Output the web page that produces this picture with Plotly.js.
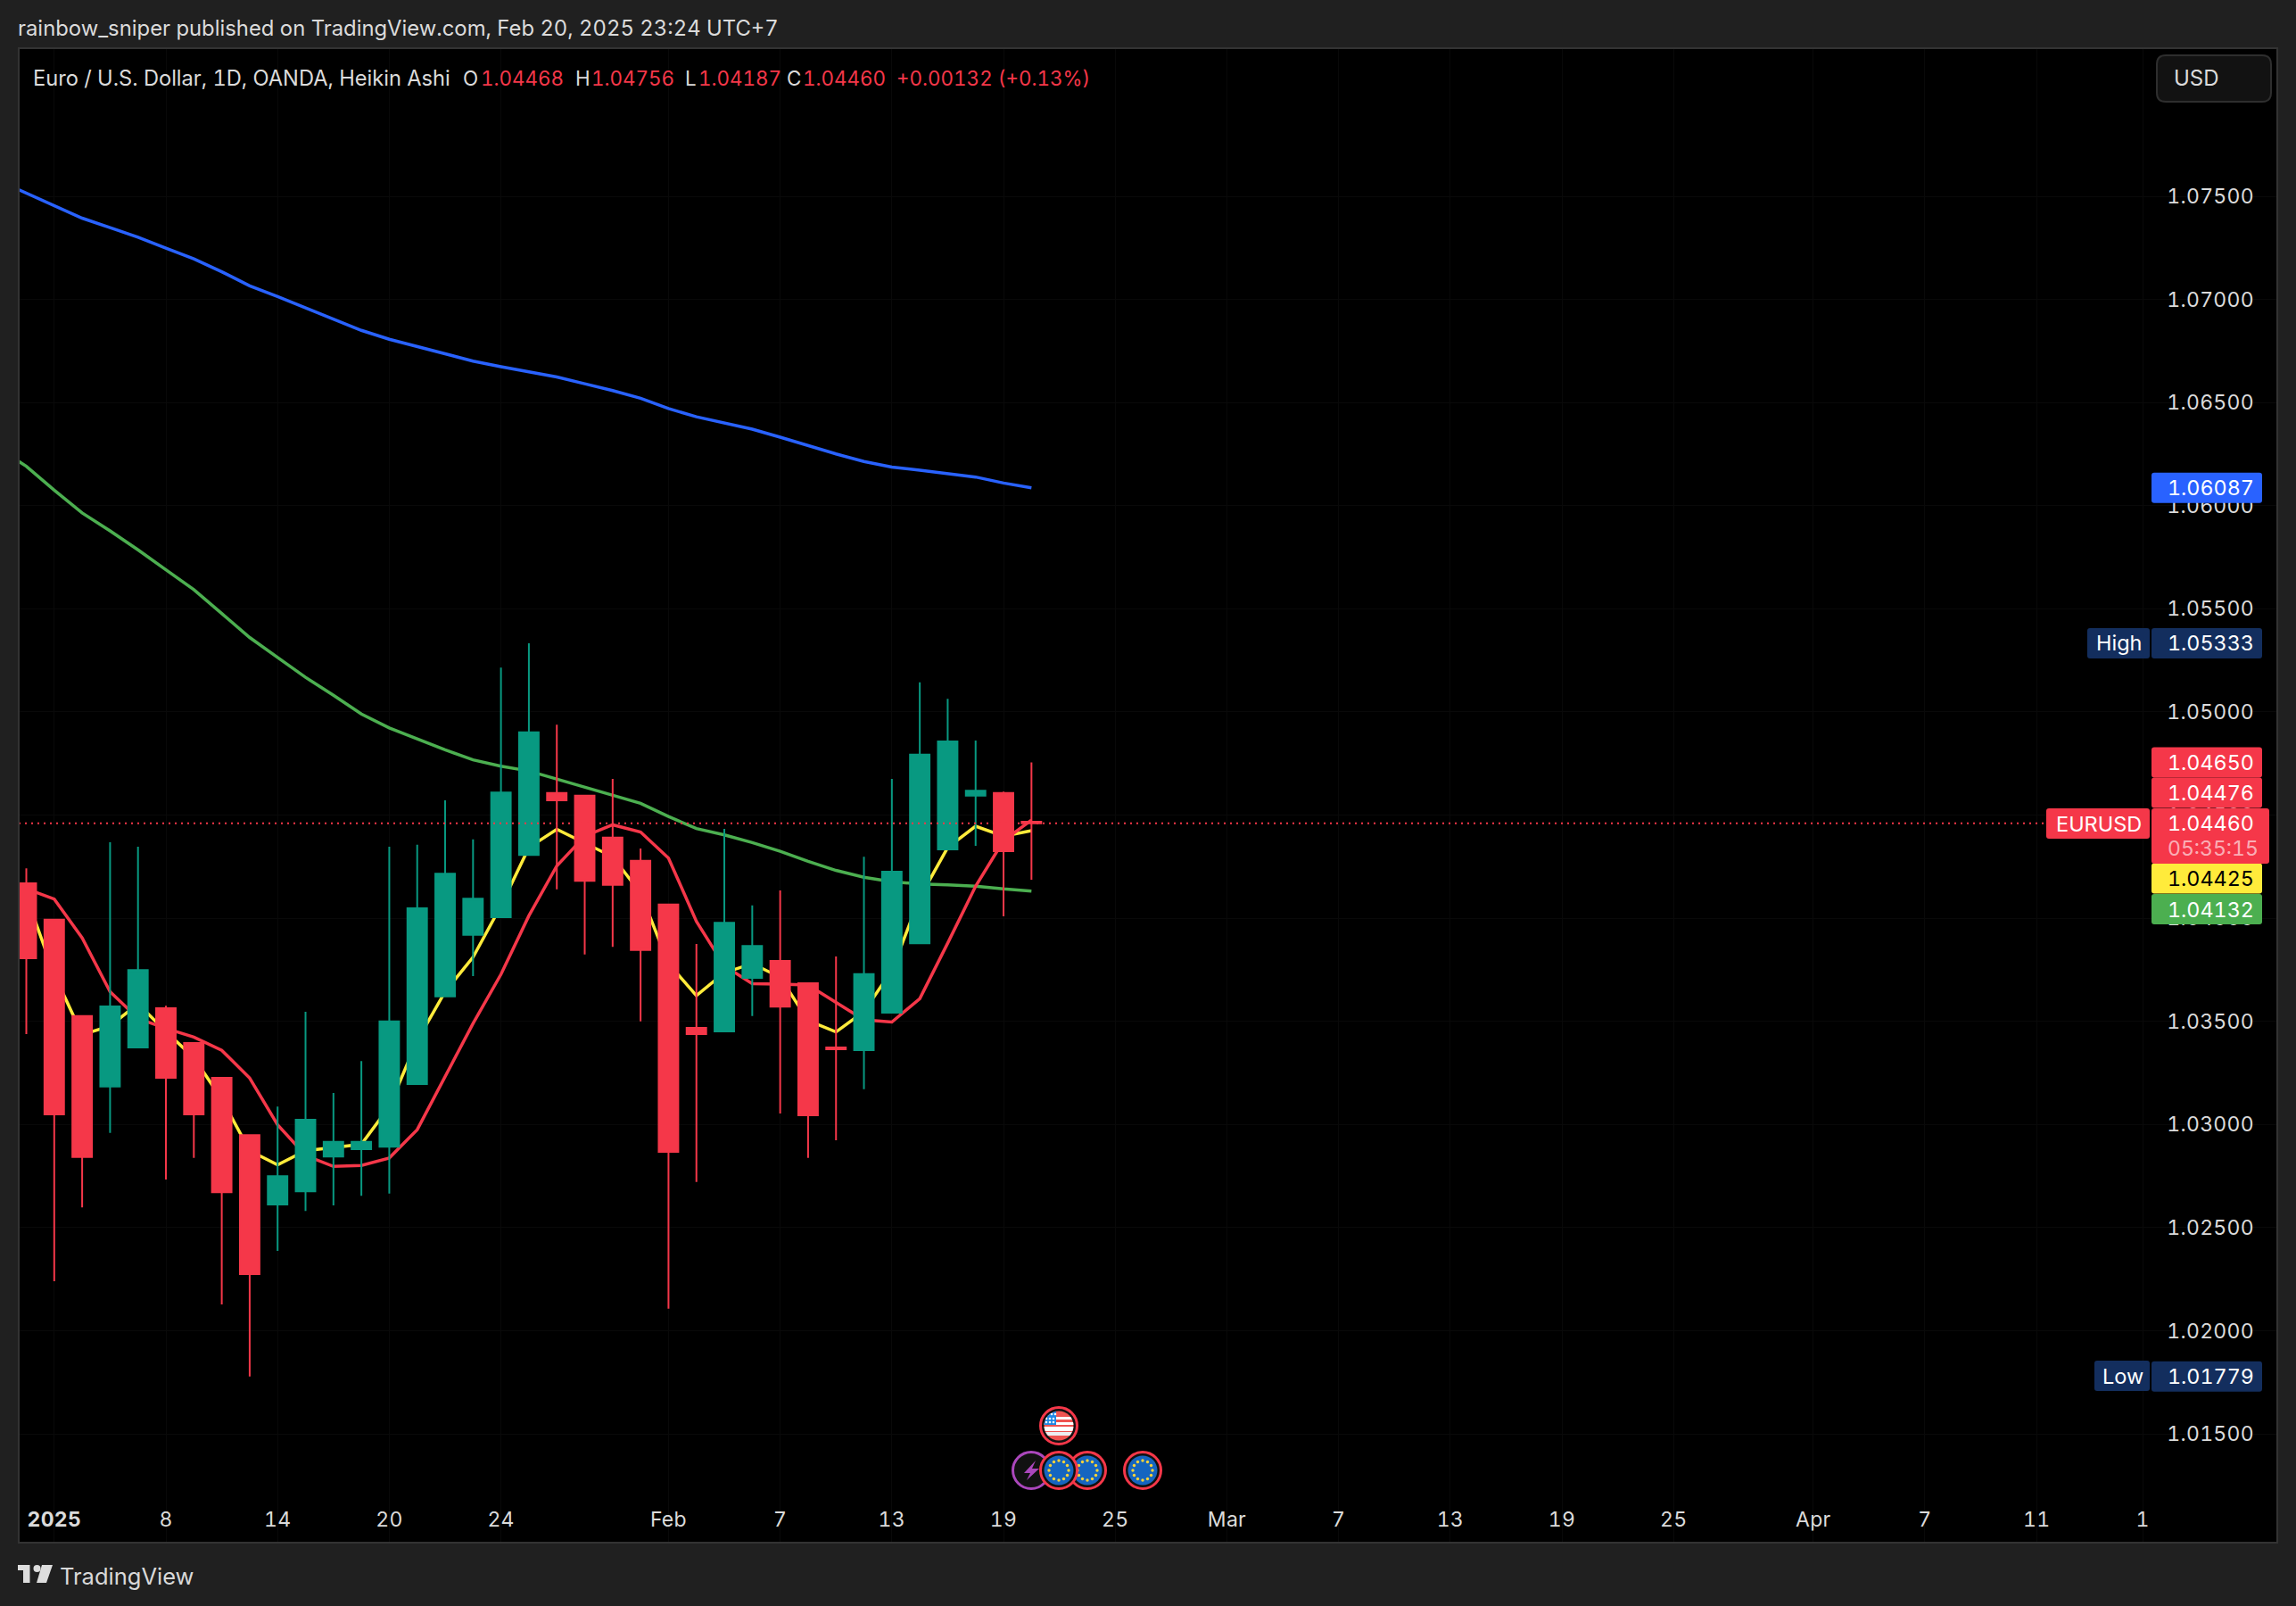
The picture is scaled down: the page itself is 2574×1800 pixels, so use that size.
<!DOCTYPE html>
<html>
<head>
<meta charset="utf-8">
<script src="https://cdn.plot.ly/plotly-3.0.1.min.js"></script>
<style>html,body{margin:0;padding:0;background:#202020}#chart{width:2574px;height:1800px}
svg text{font-variant-numeric:tabular-nums;font-feature-settings:"tnum"}
.ytick text,.xtick text{letter-spacing:.3px}
</style>
</head>
<body>
<div id="chart"></div>
<script>
// ---------- data ----------
const barIndex = [...Array(37).keys()];
const openValues  = [1.04169,1.03993,1.03526,1.03184,1.03374,1.03564,1.03395,1.03227,1.02949,1.02612,1.02676,1.02845,1.02881,1.02892,1.03196,1.03621,1.03920,1.04005,1.04307,1.04607,1.04594,1.04391,1.04279,1.04067,1.03469,1.03451,1.03711,1.03793,1.03685,1.03374,1.03361,1.03542,1.03879,1.04334,1.04594,1.04607,1.04468];
const highValues  = [1.04242,1.03993,1.03526,1.04368,1.04347,1.03576,1.03395,1.03227,1.02949,1.03087,1.03547,1.03153,1.03308,1.04347,1.04356,1.04572,1.04382,1.05215,1.05333,1.04938,1.04594,1.04676,1.04338,1.04067,1.03875,1.04433,1.04062,1.04135,1.03685,1.03815,1.04298,1.04676,1.05144,1.05064,1.04861,1.04614,1.04756];
const lowValues   = [1.03438,1.02240,1.02598,1.02959,1.03374,1.02733,1.02838,1.02128,1.01779,1.02387,1.02581,1.02608,1.02655,1.02665,1.03196,1.03621,1.03720,1.04005,1.04307,1.04140,1.03824,1.03861,1.03500,1.02107,1.02721,1.03451,1.03526,1.03054,1.02838,1.02924,1.03171,1.03542,1.03879,1.04334,1.04351,1.04009,1.04187];
const closeValues = [1.03806,1.03049,1.02843,1.03573,1.03749,1.03227,1.03049,1.02672,1.02275,1.02750,1.03023,1.02916,1.02916,1.03500,1.04048,1.04216,1.04095,1.04610,1.04901,1.04572,1.04181,1.04162,1.03846,1.02868,1.03438,1.03978,1.03866,1.03572,1.03045,1.03365,1.03729,1.04226,1.04793,1.04857,1.04618,1.04325,1.04460];

const yellowLine = [1.04107,1.03728,1.03436,1.03478,1.03585,1.03450,1.03324,1.03123,1.02873,1.02805,1.02873,1.02890,1.02904,1.03087,1.03407,1.03644,1.03811,1.04060,1.04343,1.04431,1.04365,1.04298,1.04122,1.03780,1.03625,1.03736,1.03780,1.03714,1.03504,1.03449,1.03548,1.03747,1.04100,1.04343,1.04446,1.04398,1.04425];
const redLine    = [1.04143,1.04093,1.03905,1.03644,1.03514,1.03466,1.03424,1.03360,1.03225,1.02999,1.02850,1.02797,1.02802,1.02838,1.02975,1.03229,1.03490,1.03728,1.04012,1.04254,1.04398,1.04453,1.04418,1.04292,1.03985,1.03769,1.03683,1.03681,1.03676,1.03592,1.03508,1.03497,1.03610,1.03879,1.04155,1.04376,1.04476];
const maIndex    = [-1,...barIndex];
const blueLine   = [1.07576,1.07514,1.07452,1.07394,1.07348,1.07302,1.07249,1.07197,1.07134,1.07066,1.07014,1.06960,1.06906,1.06850,1.06807,1.06773,1.06738,1.06701,1.06674,1.06649,1.06624,1.06591,1.06558,1.06521,1.06471,1.06431,1.06402,1.06371,1.06332,1.06290,1.06251,1.06214,1.06187,1.06172,1.06156,1.06139,1.06110,1.06087];
const greenLine  = [1.06278,1.06191,1.06075,1.05965,1.05878,1.05786,1.05689,1.05593,1.05477,1.05361,1.05264,1.05168,1.05081,1.04990,1.04923,1.04869,1.04817,1.04768,1.04737,1.04714,1.04674,1.04634,1.04596,1.04557,1.04493,1.04435,1.04404,1.04367,1.04325,1.04276,1.04232,1.04199,1.04177,1.04166,1.04162,1.04155,1.04142,1.04132];

const xTickVals = [1,5,9,13,17,23,27,31,35,39,43,47,51,55,59,64,68,72,75.8];
const xTickText = ['<b>2025</b>','8','14','20','24','Feb','7','13','19','25','Mar','7','13','19','25','Apr','7','11','1'];
const yTickVals = [1.015,1.02,1.025,1.03,1.035,1.04,1.045,1.05,1.055,1.06,1.065,1.07,1.075];

const lastPrice = 1.0446;
const highPrice = 1.05333, lowPrice = 1.01779;
const headerText = 'rainbow_sniper published on TradingView.com, Feb 20, 2025 23:24 UTC+7';
const legendTitle = 'Euro / U.S. Dollar, 1D, OANDA, Heikin Ashi';
const legendOhlc = ['O','1.04468','H','1.04756','L','1.04187','C','1.04460','+0.00132 (+0.13%)'];

// ---------- colours ----------
const RED='#F53749', TEAL='#089981', YEL='#FFEB3B', GRN='#4CAF50', BLU='#2962FF', NAVY='#132E5E', TXT='#DBDBDB', FONT='Inter, "Noto Sans", sans-serif';

// ---------- frame geometry ----------
const L=21,R=2553,T=54,B=1729, yMin=1.00973,yMax=1.08218, xMin=-0.2716,xMax=80.62;
const px=x=>(x-L)/(R-L), py=y=>(B-y)/(B-T);
const yOf=p=>T+(yMax-p)/(yMax-yMin)*(B-T);

function rrect(x0,y0,x1,y1,r,fill,line){
  const X=px,Y=py;
  const pts=`M${X(x0+r)},${Y(y0)} L${X(x1-r)},${Y(y0)} Q${X(x1)},${Y(y0)} ${X(x1)},${Y(y0+r)} L${X(x1)},${Y(y1-r)} Q${X(x1)},${Y(y1)} ${X(x1-r)},${Y(y1)} L${X(x0+r)},${Y(y1)} Q${X(x0)},${Y(y1)} ${X(x0)},${Y(y1-r)} L${X(x0)},${Y(y0+r)} Q${X(x0)},${Y(y0)} ${X(x0+r)},${Y(y0)} Z`;
  return {type:'path',xref:'paper',yref:'paper',layer:'above',path:pts,fillcolor:fill,line:{color:line||fill,width:line?2:0}};
}
function poly(points,fill){
  return {type:'path',xref:'paper',yref:'paper',layer:'above',fillcolor:fill,line:{width:0},
    path:'M'+points.map(p=>px(p[0])+','+py(p[1])).join(' L')+' Z'};
}
const shapes=[], annotations=[];
function note(text,x,y,opts){
  annotations.push(Object.assign({text,x:px(x),y:py(y),xref:'paper',yref:'paper',xanchor:'left',yanchor:'middle',showarrow:false,align:'left',
    font:{family:FONT,size:23,color:TXT},borderpad:0},opts||{}));
}
// price-axis labels: [text, price, fill, text colour]
const priceTags=[
  ['1.06087',1.06087,BLU,'#fff'],
  ['1.05333',highPrice,NAVY,'#fff'],
  ['1.04650',1.0465,RED,'#fff'],
  ['1.04476',1.04476,RED,'#fff'],
  ['1.04425',1.04425,YEL,'#000'],
  ['1.04132',1.04132,GRN,'#fff'],
  ['1.01779',lowPrice,NAVY,'#fff'],
];
const tagCentre={'1.04650':854.6,'1.04476':888.6,'1.04425':984.6,'1.04132':1019};
priceTags.forEach(t=>{
  const cy=tagCentre[t[0]]||yOf(t[1]);
  shapes.push(rrect(2412,cy-17,2536,cy+17,3,t[2]));
  annotations.push({text:t[0],xref:'paper',yref:'y',x:px(2428),y:t[1],yshift:yOf(t[1])-cy,xanchor:'left',yanchor:'middle',showarrow:false,font:{family:FONT,size:23.3,color:t[3]}});
});
// last price block
shapes.push(rrect(2412,906,2544,968,3,RED));
annotations.push({text:lastPrice.toFixed(5),xref:'paper',yref:'y',x:px(2428),y:lastPrice,xanchor:'left',yanchor:'middle',showarrow:false,font:{family:FONT,size:23.3,color:'#fff'}});
note('05:35:15',2429,951,{font:{family:FONT,size:23,color:'rgba(255,255,255,0.62)'}});
// left tags
shapes.push(rrect(2294,906,2410,940,3,RED));
note('EURUSD',2304,923,{font:{family:FONT,size:23.5,color:'#fff'}});
shapes.push(rrect(2340,704,2410,738,3,NAVY));
note('High',2349,721,{font:{family:FONT,size:23.5,color:'#fff'}});
shapes.push(rrect(2348,1525,2410,1559,3,NAVY));
note('Low',2356,1542,{font:{family:FONT,size:23.5,color:'#fff'}});
// last-price dotted line
shapes.push({type:'line',xref:'paper',yref:'y',x0:0,x1:px(2294),y0:lastPrice,y1:lastPrice,layer:'above',line:{color:RED,width:2,dash:'2px 5px'}});
// USD button
shapes.push(rrect(2418,62,2546,114,10,'#121212','#2E2E2E'));
note('USD',2436,87,{font:{family:FONT,size:24,color:TXT}});
// header, legend
note(headerText,19,32,{font:{family:FONT,size:23.85,color:TXT}});
note(legendTitle,36,87,{font:{family:FONT,size:23.65,color:TXT}});
[[legendOhlc[0],518,TXT],[legendOhlc[1],538,RED],[legendOhlc[2],644,TXT],[legendOhlc[3],662,RED],[legendOhlc[4],767,TXT],[legendOhlc[5],782,RED],[legendOhlc[6],881,TXT],[legendOhlc[7],899,RED],[legendOhlc[8],1004,RED]]
  .forEach(a=>note(a[0],a[1],87,{font:{family:FONT,size:22.4,color:a[2]}}));
// footer logo
shapes.push(poly([[20,1754],[33.5,1754],[33.5,1774],[26,1774],[26,1760],[20,1760]],'#DDD'));
shapes.push({type:'circle',xref:'paper',yref:'paper',layer:'above',x0:px(37.5),x1:px(45.5),y0:py(1754),y1:py(1762),fillcolor:'#DDD',line:{width:0}});
shapes.push(poly([[47,1754],[59,1754],[52,1774],[41,1774]],'#DDD'));
note('TradingView',66,1766,{font:{family:FONT,size:25.5,color:'#D9D9D9'}});

// event badges as inline SVG images
function starRing(){let s='';for(let i=0;i<12;i++){const a=i*Math.PI/6;s+=`<circle cx="${22+11*Math.sin(a)}" cy="${22-11*Math.cos(a)}" r="1.7" fill="#F5D33A"/>`;}return s;}
const euSvg=`<svg xmlns="http://www.w3.org/2000/svg" width="44" height="44"><circle cx="22" cy="22" r="20.5" fill="#111" stroke="${RED}" stroke-width="3"/><circle cx="22" cy="22" r="16.5" fill="#1565C0"/>${starRing()}</svg>`;
const usSvg=`<svg xmlns="http://www.w3.org/2000/svg" width="44" height="44"><defs><clipPath id="c"><circle cx="22" cy="22" r="16.5"/></clipPath></defs><circle cx="22" cy="22" r="20.5" fill="#111" stroke="${RED}" stroke-width="3"/><g clip-path="url(#c)"><rect width="44" height="44" fill="#EF5350"/><rect y="12" width="44" height="3" fill="#fff"/><rect y="18" width="44" height="3" fill="#fff"/><rect y="23" width="44" height="5" fill="#fff"/><rect y="29" width="44" height="4" fill="#ECEFF1"/><rect y="5" width="19" height="16" fill="#1E88E5"/><g fill="#fff"><circle cx="10" cy="9" r="1.3"/><circle cx="14" cy="9" r="1.3"/><circle cx="18" cy="9" r="1.3"/><circle cx="8" cy="14" r="1.3"/><circle cx="12" cy="14" r="1.3"/><circle cx="16" cy="14" r="1.3"/><circle cx="8" cy="18" r="1.3"/><circle cx="12" cy="18" r="1.3"/><circle cx="16" cy="18" r="1.3"/></g></g></svg>`;
const boltSvg=`<svg xmlns="http://www.w3.org/2000/svg" width="44" height="44"><circle cx="22" cy="22" r="20.5" fill="#111" stroke="#AB47BC" stroke-width="3"/><path d="M27 11 L14 25 L21 25 L17 33 L31 20 L23 20 Z" fill="#AB47BC"/></svg>`;
const uri=s=>'data:image/svg+xml;charset=utf-8,'+encodeURIComponent(s);
function badge(svg,cx,cy){return {source:uri(svg),xref:'paper',yref:'paper',layer:'above',x:px(cx-22),y:py(cy-22),sizex:44/(R-L),sizey:44/(B-T),sizing:'stretch',xanchor:'left',yanchor:'top'};}
const images=[badge(usSvg,1187,1598),badge(boltSvg,1156,1648),badge(euSvg,1219,1648),badge(euSvg,1187,1648),badge(euSvg,1281,1648)];

// frame
shapes.push({type:'rect',xref:'paper',yref:'paper',layer:'above',x0:0,x1:1,y0:0,y1:1,line:{color:'#333333',width:2},fillcolor:'rgba(0,0,0,0)'});

const ln=(name,x,y,c,w)=>({type:'scatter',mode:'lines',name,x,y,line:{color:c,width:w,shape:'linear'},xaxis:'x',yaxis:'y',hoverinfo:'skip'});
const traces=[
  ln('MA 200',maIndex,blueLine,BLU,3.5),
  ln('MA 100',maIndex,greenLine,GRN,3.5),
  ln('MA fast',barIndex,yellowLine,YEL,3.5),
  ln('MA slow',barIndex,redLine,RED,3.5),
  {type:'candlestick',name:'EURUSD',x:barIndex,open:openValues,high:highValues,low:lowValues,close:closeValues,xaxis:'x2',yaxis:'y2',
   whiskerwidth:0,
   increasing:{line:{color:TEAL,width:2},fillcolor:TEAL},
   decreasing:{line:{color:RED,width:2},fillcolor:RED}}
];
const layout={
  width:2574,height:1800,showlegend:false,hovermode:false,
  paper_bgcolor:'#202020',plot_bgcolor:'#000000',
  margin:{l:L,r:2574-R,t:T,b:1800-B,pad:0},
  boxgap:0.3,boxgroupgap:0,boxmode:'overlay',
  xaxis:{type:'linear',range:[xMin,xMax],tickmode:'array',tickvals:xTickVals,ticktext:xTickText,
    showgrid:true,gridcolor:'#090909',gridwidth:1,zeroline:false,showline:false,ticks:'',
    ticklabelposition:'inside',ticklabeloverflow:'allow',ticklabelstandoff:10,tickfont:{family:FONT,size:23,color:TXT},rangeslider:{visible:false},fixedrange:true},
  yaxis:{type:'linear',side:'right',range:[yMin,yMax],tickmode:'array',tickvals:yTickVals,ticktext:yTickVals.map(v=>v.toFixed(5)),
    showgrid:true,gridcolor:'#090909',gridwidth:1,zeroline:false,showline:false,ticks:'',
    ticklabelposition:'inside',ticklabeloverflow:'allow',ticklabelstandoff:23,tickfont:{family:FONT,size:23,color:TXT},fixedrange:true},
  xaxis2:{overlaying:'x',anchor:'y2',range:[xMin,xMax],visible:false,rangeslider:{visible:false},fixedrange:true,type:'linear'},
  yaxis2:{overlaying:'y',anchor:'x2',range:[yMin,yMax],visible:false,fixedrange:true,type:'linear'},
  shapes,annotations,images
};
Plotly.newPlot('chart',traces,layout,{displayModeBar:false,staticPlot:true,responsive:false});
</script>
</body>
</html>
